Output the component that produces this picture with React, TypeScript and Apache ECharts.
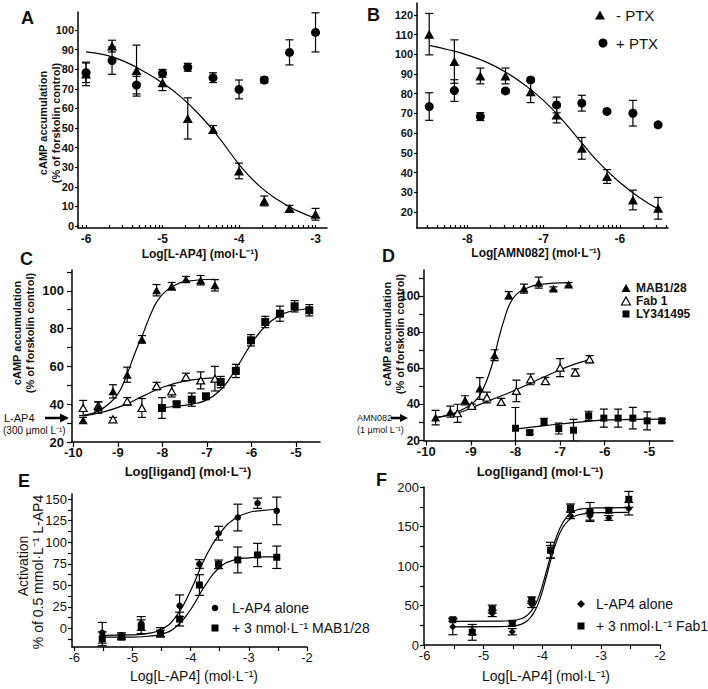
import React, { useEffect, useRef } from 'react';
import * as echarts from 'echarts';

// ---------- Panel A : L-AP4, -PTX (triangles) / +PTX (circles)
const aX = [-6, -5.66, -5.34, -5.0, -4.67, -4.34, -4.0, -3.67, -3.34, -3.0];
const aTriY = [77.6, 91.8, 79.3, 73.1, 54.9, 49.3, 28.1, 12.8, 9, 6];
const aTriErr = [6, 3, 13, 4, 10.5, 2, 4, 2.5, 1.5, 3];
const aCircY = [78.2, 84.4, 71.9, 77.9, 81, 75.7, 69.7, 74.5, 88.6, 98.8];
const aCircErr = [5, 7, 4.5, 2, 2, 2.5, 4.8, 1.5, 6.4, 10];
const aCurveX = [-6, -5.75, -5.5, -5.25, -5, -4.75, -4.5, -4.25, -4, -3.75, -3.5, -3.25, -3];
const aCurveY = [88.9, 87.3, 84, 79, 73, 65.5, 56, 44.5, 31.5, 21, 13.5, 8, 4];
const aXLabels = [-6, -5, -4, -3];
const aYLabels = [0, 10, 20, 30, 40, 50, 60, 70, 80, 90, 100];

// ---------- Panel B : AMN082
const bX = [-8.5, -8.17, -7.83, -7.5, -7.17, -6.83, -6.5, -6.17, -5.83, -5.5];
const bTriY = [110.2, 96.3, 89, 89, 81, 69.2, 52.3, 38, 26.1, 21.9];
const bTriErr = [10.5, 11, 4, 4, 5.5, 4, 5.5, 3.5, 5, 5.5];
const bCircY = [73.5, 81.6, 68.4, 81.4, 87, 74.3, 75.2, 71, 70.1, 64.2];
const bCircErr = [7, 5.5, 2, 1, 1, 4, 4, 1, 6.5, 1];
const bCurveX = [-8.5, -8.25, -8, -7.75, -7.5, -7.25, -7, -6.75, -6.5, -6.25, -6, -5.75, -5.5];
const bCurveY = [104.5, 102.3, 99.6, 96, 91, 84.5, 76.5, 66.5, 55, 44, 35, 27.5, 21.5];
const bXLabels = [-8, -7, -6];
const bYLabels = [20, 30, 40, 50, 60, 70, 80, 90, 100, 110, 120];

// ---------- Panel C : L-AP4 300 µM + ligands
const cX = [-9.78, -9.44, -9.11, -8.79, -8.46, -8.13, -7.79, -7.47, -7.14, -6.82];
const cMabY = [31.5, 38.2, 46.8, 55.6, 74.3, 100.3, 102.4, 106.1, 105.6, 102.9];
const cMabErr = [1.5, 3, 3.5, 4, 2, 3, 2, 1.5, 2.5, 3];
const cFabY = [38, 39.2, 32, 41.5, 38, 49.6, 46.8, 54.4, 52.6, 53.5];
const cFabErr = [4, 2, 1, 2, 5, 2, 3, 2, 4.5, 6.5];
const cLyX = [-8.01, -7.68, -7.34, -7.02, -6.69, -6.35, -6.01, -5.69, -5.36, -5.03, -4.7];
const cLyY = [38, 40, 42.4, 44.2, 51.7, 57.6, 73.8, 83.5, 87.9, 91.8, 89.7];
const cLyErr = [5.5, 1, 3.5, 1, 3, 3.5, 3, 3, 4, 3, 3];
const cMabCurveX = [-9.775, -9.438, -9.115, -8.95, -8.787, -8.65, -8.54, -8.463, -8.35, -8.24, -8.126, -7.98, -7.79, -7.47, -6.82];
const cMabCurveY = [34.1, 36.4, 42.1, 47.4, 56.2, 65, 71.5, 75.6, 82.6, 88.8, 94.1, 98.5, 102, 105, 106.1];
const cFabCurveX = [-9.775, -9.326, -8.876, -8.427, -7.978, -7.528, -7.079, -6.82];
const cFabCurveY = [33.8, 35.9, 39.4, 44.4, 49.1, 52.1, 53.5, 53.9];
const cLyCurveX = [-8.013, -7.676, -7.339, -7.002, -6.703, -6.479, -6.254, -6.03, -5.805, -5.58, -5.28, -4.98, -4.697];
const cLyCurveY = [38.1, 38.9, 40, 42.3, 47.4, 53.9, 62.3, 71, 78.2, 83.5, 87.9, 89.7, 90.5];
const cdXLabels = [-10, -9, -8, -7, -6, -5];
const cdYLabels = [20, 40, 60, 80, 100];
const cdYTicks = [20, 30, 40, 50, 60, 70, 80, 90, 100, 110];

// ---------- Panel D : AMN082 1 µM + ligands
const dMabX = [-9.79, -9.46, -9.13, -8.8, -8.47, -8.15, -7.81, -7.48, -7.15, -6.81];
const dMabY = [32.7, 36, 42.3, 48.8, 67.3, 100.5, 104.2, 107.5, 104.2, 106.5];
const dMabErr = [4, 3, 2.5, 6, 3, 2, 2.5, 3, 1, 1];
const dFabX = [-9.3, -8.98, -8.64, -8.32, -7.98, -7.66, -7.33, -7.0, -6.66, -6.34];
const dFabY = [35.1, 39.2, 43.8, 41.4, 47.5, 53.9, 53, 60.4, 57.7, 65];
const dFabErr = [5, 1, 3, 2, 6, 3, 2, 5, 2, 2];
const dLyX = [-8.0, -7.68, -7.36, -7.03, -6.7, -6.36, -6.02, -5.7, -5.37, -5.05, -4.72];
const dLyY = [26.8, 24.4, 30.3, 26.6, 25.7, 33.7, 32.4, 32.4, 32.4, 30.9, 30.9];
const dLyErr = [11.5, 1, 2, 3, 6, 2.5, 5, 5, 6, 5, 1];
const dMabCurveX = [-9.79, -9.44, -9.1, -8.88, -8.73, -8.58, -8.47, -8.36, -8.24, -8.13, -7.98, -7.8, -7.46, -6.81];
const dMabCurveY = [32.7, 34.6, 38.3, 42.5, 48.4, 57.7, 66.9, 78, 88.1, 95.5, 101, 103.8, 106.5, 107.5];
const dFabCurveX = [-9.79, -9.25, -8.88, -8.51, -8.13, -7.76, -7.39, -7.01, -6.64, -6.3];
const dFabCurveY = [32.7, 35.5, 39.2, 42.9, 46.6, 50.6, 54.9, 59.1, 62.6, 65];
const dLyCurveX = [-8.0, -7.38, -6.64, -5.89, -4.72];
const dLyCurveY = [26.3, 28.1, 30, 31.4, 31.8];

// ---------- Panel E : L-AP4 alone / + MAB1/28
const eX = [-5.52, -5.19, -4.85, -4.52, -4.19, -3.85, -3.52, -3.19, -2.85, -2.52];
const eAloneY = [-5, -8, 5.8, -4, 26.4, 74.8, 110.5, 128.7, 145.3, 136.4];
const eAloneErr = [12, 3, 8, 5, 12.5, 5, 8, 15.5, 6, 16];
const eMabY = [-12, -10, 2, -6, 10.9, 50.4, 74.4, 79.5, 85.3, 82.6];
const eMabErr = [8, 3, 8, 4, 8, 12, 5, 15, 13.5, 13];
const eCurveX = [-5.52, -5.0, -4.75, -4.5, -4.25, -4.0, -3.75, -3.5, -3.25, -3.0, -2.75, -2.52];
const eAloneCurveY = [-8, -7.5, -6, -1, 14, 44, 82, 110, 127, 134.5, 137, 138];
const eMabCurveY = [-10, -10, -9, -6.5, 2, 22, 50, 71, 79.5, 82, 83, 83];
const efXLabels = [-6, -5, -4, -3, -2];
const efXTicks = [-6, -5.5, -5, -4.5, -4, -3.5, -3, -2.5, -2];
const eYLabels = [0, 25, 50, 75, 100, 125, 150];
const eYTicks = [-12.5, 0, 12.5, 25, 37.5, 50, 62.5, 75, 87.5, 100, 112.5, 125, 137.5, 150];

// ---------- Panel F : L-AP4 alone / + Fab1
const fX = [-5.52, -5.19, -4.85, -4.51, -4.18, -3.86, -3.52, -3.19, -2.87, -2.53];
const fAloneY = [23, 18, 40, 16.8, 51.4, 118, 164, 163, 160.8, 172.6];
const fAloneErr = [10, 5, 4, 4, 4, 8, 4, 5, 3, 8];
const fFabY = [32, 16, 45.5, 27.4, 56.8, 120, 173.5, 168.4, 170.5, 184.4];
const fFabErr = [2, 10, 5, 3, 4, 10, 5, 12, 3, 10];
const fCurveX = [-5.52, -4.75, -4.5, -4.35, -4.25, -4.15, -4.05, -3.95, -3.85, -3.75, -3.65, -3.55, -3.45, -3.3, -3.0, -2.53];
const fAloneCurveY = [23, 23.2, 24, 26.5, 31, 40, 56, 81, 109, 133, 149, 158, 163, 166, 167.6, 168];
const fFabCurveY = [30, 30.2, 31, 33.5, 38, 47, 63, 88, 115, 139, 155, 165, 170, 172.5, 173.7, 174];
const fYLabels = [0, 50, 100, 150, 200];
const fYTicks = [0, 25, 50, 75, 100, 125, 150, 175, 200];

const FONT = '"Liberation Sans", Arial, Helvetica, sans-serif';
const SUP = '\u207B\u00B9';

function logTicks(min: number, max: number) {
  const out: number[] = [];
  for (let d = Math.floor(min) - 1; d <= Math.ceil(max); d++) {
    for (let k = 1; k <= 9; k++) {
      const v = d + Math.log10(k);
      if (v >= min - 1e-9 && v <= max + 1e-9) out.push(v);
    }
  }
  return out;
}

function axis(gi: number, min: number, max: number, labels: number[], ticks: number[], o: any) {
  return {
    type: 'value',
    gridIndex: gi,
    min,
    max,
    axisLine: { show: true, onZero: false, lineStyle: { color: '#000', width: 1.5 } },
    axisTick: {
      show: true,
      inside: !!o.inside,
      length: o.tickLen ?? 4,
      customValues: ticks,
      lineStyle: { color: '#000', width: 1.2 },
    },
    axisLabel: {
      show: true,
      customValues: labels,
      margin: o.margin ?? 4,
      fontSize: o.fontSize ?? 12,
      fontWeight: o.bold ? 'bold' : 'normal',
      fontFamily: FONT,
      color: '#111',
      showMinLabel: true,
      showMaxLabel: true,
      hideOverlap: false,
    },
    splitLine: { show: false },
  };
}

const pairs = (xs: number[], ys: number[]) => xs.map((x, i) => [x, ys[i]]);

function curve(gi: number, xs: number[], ys: number[]) {
  return {
    type: 'line',
    xAxisIndex: gi,
    yAxisIndex: gi,
    data: pairs(xs, ys),
    smooth: 0.5,
    symbol: 'none',
    silent: true,
    lineStyle: { color: '#000', width: 1.2 },
    z: 2,
  };
}

function marks(gi: number, xs: number[], ys: number[], symbol: string, size: any, hollow = false) {
  return {
    type: 'scatter',
    xAxisIndex: gi,
    yAxisIndex: gi,
    data: pairs(xs, ys),
    symbol,
    symbolSize: size,
    silent: true,
    itemStyle: hollow
      ? { color: '#fff', borderColor: '#000', borderWidth: 1.2, opacity: 1 }
      : { color: '#000', opacity: 1 },
    z: 5,
  };
}

function errs(gi: number, xs: number[], ys: number[], es: number[], cap = 4) {
  return {
    type: 'custom',
    xAxisIndex: gi,
    yAxisIndex: gi,
    data: xs.map((x, i) => [x, ys[i], es[i]]),
    encode: { x: 0, y: 1 },
    clip: true,
    silent: true,
    z: 3,
    renderItem: (params: any, api: any) => {
      const x = api.value(0);
      const y = api.value(1);
      const e = api.value(2);
      const t = api.coord([x, y + e]);
      const b = api.coord([x, y - e]);
      const st = { stroke: '#000', lineWidth: 1.2 };
      return {
        type: 'group',
        children: [
          { type: 'line', shape: { x1: t[0], y1: t[1], x2: b[0], y2: b[1] }, style: st },
          { type: 'line', shape: { x1: t[0] - cap, y1: t[1], x2: t[0] + cap, y2: t[1] }, style: st },
          { type: 'line', shape: { x1: b[0] - cap, y1: b[1], x2: b[0] + cap, y2: b[1] }, style: st },
        ],
      };
    },
  };
}

function txt(x: number, y: number, text: string, font: string, align = 'left', rotation = 0) {
  return {
    type: 'text',
    x,
    y,
    rotation,
    silent: true,
    style: { text, font, fill: '#111', textAlign: align, textVerticalAlign: 'middle' },
  };
}

export default function App() {
  const ref = useRef<HTMLDivElement>(null);
  useEffect(() => {
    if (!ref.current) return;
    const chart = echarts.init(ref.current, undefined, { renderer: 'svg' });

    const grids = [
      { left: 78, top: 12, width: 249, height: 216 },
      { left: 417, top: 3, width: 251, height: 225 },
      { left: 72, top: 270, width: 248, height: 172 },
      { left: 424, top: 270, width: 249, height: 170.5 },
      { left: 72, top: 494, width: 235, height: 153 },
      { left: 424, top: 487, width: 236, height: 158 },
    ];

    const xAxes = [
      axis(0, -6.105, -2.85, aXLabels, logTicks(-6.105, -2.85), { inside: true, tickLen: 3, margin: 5, bold: true, fontSize: 12 }),
      axis(1, -8.66, -5.37, bXLabels, logTicks(-8.66, -5.37), { inside: true, tickLen: 3, margin: 5, bold: true, fontSize: 12 }),
      axis(2, -10.03, -4.46, cdXLabels, cdXLabels, { tickLen: 5, margin: 4, bold: true, fontSize: 13 }),
      axis(3, -10.05, -4.47, cdXLabels, cdXLabels, { tickLen: 5, margin: 4, bold: true, fontSize: 13 }),
      axis(4, -6.04, -2, efXLabels, efXTicks, { tickLen: 4, margin: 4, fontSize: 13 }),
      axis(5, -6.01, -2, efXLabels, efXTicks, { tickLen: 4, margin: 4, fontSize: 13 }),
    ];
    const yAxes = [
      axis(0, -1, 109.2, aYLabels, aYLabels, { tickLen: 3, margin: 4, bold: true, fontSize: 11 }),
      axis(1, 11.9, 126, bYLabels, bYLabels, { tickLen: 3, margin: 4, bold: true, fontSize: 11 }),
      axis(2, 20, 111, cdYLabels, cdYTicks, { tickLen: 5, margin: 8, bold: true, fontSize: 13 }),
      axis(3, 20, 114.5, cdYLabels, cdYTicks, { tickLen: 5, margin: 4, bold: true, fontSize: 12 }),
      axis(4, -21.5, 156, eYLabels, eYTicks, { tickLen: 4, margin: 5, fontSize: 13 }),
      axis(5, 0, 200, fYLabels, fYTicks, { tickLen: 4, margin: 5, fontSize: 13 }),
    ];

    const series: any[] = [
      // A
      curve(0, aCurveX, aCurveY),
      errs(0, aX, aTriY, aTriErr),
      errs(0, aX, aCircY, aCircErr),
      marks(0, aX, aCircY, 'circle', 9),
      marks(0, aX, aTriY, 'triangle', [10, 9]),
      // B
      curve(1, bCurveX, bCurveY),
      errs(1, bX, bTriY, bTriErr),
      errs(1, bX, bCircY, bCircErr),
      marks(1, bX, bCircY, 'circle', 9),
      marks(1, bX, bTriY, 'triangle', [10, 9]),
      // C
      curve(2, cMabCurveX, cMabCurveY),
      curve(2, cFabCurveX, cFabCurveY),
      curve(2, cLyCurveX, cLyCurveY),
      errs(2, cX, cMabY, cMabErr),
      errs(2, cX, cFabY, cFabErr),
      errs(2, cLyX, cLyY, cLyErr),
      marks(2, cX, cFabY, 'triangle', [8, 7], true),
      marks(2, cX, cMabY, 'triangle', [9, 8]),
      marks(2, cLyX, cLyY, 'rect', 8),
      // D
      curve(3, dMabCurveX, dMabCurveY),
      curve(3, dFabCurveX, dFabCurveY),
      curve(3, dLyCurveX, dLyCurveY),
      errs(3, dMabX, dMabY, dMabErr),
      errs(3, dFabX, dFabY, dFabErr),
      errs(3, dLyX, dLyY, dLyErr),
      marks(3, dFabX, dFabY, 'triangle', [8, 7], true),
      marks(3, dMabX, dMabY, 'triangle', [9, 8]),
      marks(3, dLyX, dLyY, 'rect', 7),
      // E
      curve(4, eCurveX, eAloneCurveY),
      curve(4, eCurveX, eMabCurveY),
      errs(4, eX, eAloneY, eAloneErr, 4.5),
      errs(4, eX, eMabY, eMabErr, 4.5),
      marks(4, eX, eAloneY, 'circle', 6.5),
      marks(4, eX, eMabY, 'rect', 7),
      // F
      curve(5, fCurveX, fAloneCurveY),
      curve(5, fCurveX, fFabCurveY),
      errs(5, fX, fAloneY, fAloneErr, 4.5),
      errs(5, fX, fFabY, fFabErr, 4.5),
      marks(5, fX, fAloneY, 'diamond', 7),
      marks(5, fX, fFabY, 'rect', 7),
    ];

    const B11 = `bold 11px ${FONT}`;
    const B12 = `bold 12px ${FONT}`;
    const B13 = `bold 13px ${FONT}`;
    const N14 = `14px ${FONT}`;
    const LET = `bold 18px ${FONT}`;
    const R = Math.PI / 2;

    const elements: any[] = [
      // panel letters
      txt(21, 18, 'A', LET),
      txt(367, 15, 'B', LET),
      txt(20, 259, 'C', LET),
      txt(382, 256, 'D', LET),
      txt(18, 481, 'E', LET),
      txt(376, 480, 'F', LET),
      // A titles
      txt(43, 123, 'cAMP accumulation', B11, 'center', R),
      txt(56, 123, '(% of forskolin control)', B11, 'center', R),
      txt(200, 254, `Log[L-AP4] (mol\u00B7L${SUP})`, B12, 'center'),
      // B titles
      txt(536, 253, `Log[AMN082] (mol\u00B7L${SUP})`, B12, 'center'),
      // C titles
      txt(17, 333, 'cAMP accumulation', B11, 'center', R),
      txt(30, 333, '(% of forskolin control)', B11, 'center', R),
      txt(188, 471, `Log[ligand] (mol\u00B7L${SUP})`, B13, 'center'),
      // D titles
      txt(387, 334, 'cAMP accumulation', B11, 'center', R),
      txt(400, 334, '(% of forskolin control)', B11, 'center', R),
      txt(540, 471, `Log[ligand] (mol\u00B7L${SUP})`, B13, 'center'),
      // E titles
      txt(23, 566, 'Activation', N14, 'center', R),
      txt(38, 572, `% of 0.5 mmol\u00B7L${SUP} L-AP4`, N14, 'center', R),
      txt(194, 676, `Log[L-AP4] (mol\u00B7L${SUP})`, N14, 'center'),
      // F titles
      txt(546, 676, `Log[L-AP4] (mol\u00B7L${SUP})`, N14, 'center'),
      // C annotation
      txt(4, 418, 'L-AP4', `11px ${FONT}`),
      txt(3, 430, `(300 \u00B5mol L${SUP})`, `10px ${FONT}`),
      { type: 'line', silent: true, shape: { x1: 45, y1: 418, x2: 62, y2: 418 }, style: { stroke: '#000', lineWidth: 2.5 } },
      { type: 'polygon', silent: true, shape: { points: [[60, 413.5], [69, 418], [60, 422.5]] }, style: { fill: '#000' } },
      // D annotation
      txt(357, 418, 'AMN082', `9px ${FONT}`),
      txt(357, 430, `(1 \u00B5mol L${SUP})`, `9px ${FONT}`),
      { type: 'line', silent: true, shape: { x1: 391, y1: 418, x2: 402, y2: 418 }, style: { stroke: '#000', lineWidth: 2.5 } },
      { type: 'polygon', silent: true, shape: { points: [[400, 414], [408, 418], [400, 422]] }, style: { fill: '#000' } },
      // B legend
      { type: 'polygon', silent: true, shape: { points: [[595, 19.5], [605, 19.5], [600, 10.5]] }, style: { fill: '#000' } },
      txt(616, 15, '- PTX', `15px ${FONT}`),
      { type: 'circle', silent: true, shape: { cx: 603, cy: 43, r: 4.5 }, style: { fill: '#000' } },
      txt(616, 43, '+ PTX', `15px ${FONT}`),
      // D legend
      { type: 'polygon', silent: true, shape: { points: [[621.5, 292], [630.5, 292], [626, 284]] }, style: { fill: '#000' } },
      txt(636, 288, 'MAB1/28', B12),
      { type: 'polygon', silent: true, shape: { points: [[621.5, 305], [630.5, 305], [626, 297]] }, style: { fill: '#fff', stroke: '#000', lineWidth: 1.2 } },
      txt(636, 301, 'Fab 1', B12),
      { type: 'rect', silent: true, shape: { x: 622.5, y: 310.5, width: 7, height: 7 }, style: { fill: '#000' } },
      txt(636, 314, 'LY341495', B12),
      // E legend
      { type: 'circle', silent: true, shape: { cx: 215, cy: 608, r: 3.3 }, style: { fill: '#000' } },
      txt(232, 608, 'L-AP4 alone', N14),
      { type: 'rect', silent: true, shape: { x: 211.5, y: 624.5, width: 7, height: 7 }, style: { fill: '#000' } },
      txt(232, 628, `+ 3 nmol\u00B7L${SUP} MAB1/28`, N14),
      // F legend
      { type: 'polygon', silent: true, shape: { points: [[581, 600], [585, 604], [581, 608], [577, 604]] }, style: { fill: '#000' } },
      txt(596, 604, 'L-AP4 alone', N14),
      { type: 'rect', silent: true, shape: { x: 577.5, y: 622.5, width: 7, height: 7 }, style: { fill: '#000' } },
      txt(596, 626, `+ 3 nmol\u00B7L${SUP} Fab1`, N14),
    ];

    chart.setOption({
      animation: false,
      backgroundColor: '#fff',
      grid: grids.map((g) => ({ ...g, containLabel: false })),
      xAxis: xAxes,
      yAxis: yAxes,
      series,
      graphic: { elements },
    });
    return () => chart.dispose();
  }, []);

  return (
    <div
      ref={ref}
      style={{ position: 'absolute', left: 0, top: 0, width: 708, height: 689, background: '#fff' }}
    />
  );
}
